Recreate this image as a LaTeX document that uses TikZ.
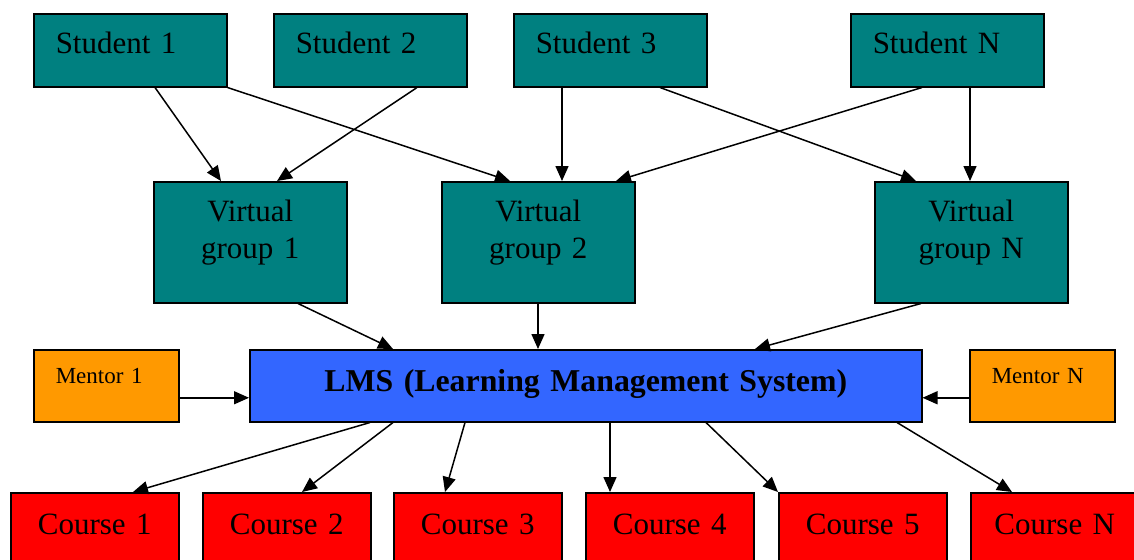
\documentclass[tikz,border=0pt]{standalone}
\usepackage{fontspec}
\setmainfont{Liberation Serif}
\usetikzlibrary{arrows.meta}
\definecolor{lmsblue}{HTML}{3366FF}
\definecolor{mentororange}{HTML}{FF9900}

\begin{document}
\begin{tikzpicture}[x=0.5pt,y=-0.5pt,
    >={Triangle[length=7.5pt,width=6.5pt]},
    box/.style={draw, line width=0.75pt, anchor=north west, inner ysep=0pt},
    studbox/.style={box, fill=teal, inner xsep=11pt, text width=74.5pt, align=left,
        text height=19.8pt, text depth=16.7pt, font=\fontsize{15.5}{18.5}\selectfont},
    groupbox/.style={box, fill=teal, inner xsep=4pt, text width=88.5pt, align=center,
        text height=19.8pt, text depth=40.7pt, font=\fontsize{15.5}{18.5}\selectfont},
    mentorbox/.style={box, fill=mentororange, inner xsep=11pt, text width=50.5pt, align=left,
        text height=17.1pt, text depth=18.9pt, font=\fontsize{11.5}{14}\selectfont},
    lmsbox/.style={box, fill=lmsblue, inner xsep=4pt, text width=328pt, align=center,
        text height=21pt, text depth=15pt, font=\fontsize{15.9}{19}\selectfont\bfseries},
    coursebox/.style={box, fill=red, inner xsep=4pt, text width=76pt, align=center,
        text height=20.8pt, text depth=19.2pt, font=\fontsize{15.5}{18.5}\selectfont},
    link/.style={->, line width=0.75pt}]
        \useasboundingbox (0,0) rectangle (1134,559);
        \clip (0,0) rectangle (1134,559);

        \node[studbox] (s1) at (33,13) {Student 1};
        \node[studbox] (s2) at (273,13) {Student 2};
        \node[studbox] (s3) at (513,13) {Student 3};
        \node[studbox] (sN) at (850,13) {Student N};

        \node[groupbox] (v1) at (153,181) {Virtual\\group 1};
        \node[groupbox] (v2) at (441,181) {Virtual\\group 2};
        \node[groupbox] (vN) at (874,181) {Virtual\\group N};

        \node[mentorbox] (m1) at (33,349) {Mentor 1};
        \node[lmsbox] (lms) at (249,349) {LMS (Learning Management System)};
        \node[mentorbox] (mN) at (969,349) {Mentor N};

        \node[coursebox] (c1) at (10,492) {Course 1};
        \node[coursebox] (c2) at (202,492) {Course 2};
        \node[coursebox] (c3) at (393,492) {Course 3};
        \node[coursebox] (c4) at (585,492) {Course 4};
        \node[coursebox] (c5) at (778,492) {Course 5};
        \node[coursebox] (cN) at (970,492) {Course N};

        \draw[link] ([xshift=61pt]s1.south west) -- ([xshift=34pt]v1.north west);
        \draw[link] (s1.south east) -- ([xshift=34.5pt]v2.north west);
        \draw[link] ([xshift=72pt]s2.south west) -- ([xshift=62pt]v1.north west);
        \draw[link] ([xshift=24.5pt]s3.south west) -- ([xshift=60.5pt]v2.north west);
        \draw[link] ([xshift=73.5pt]s3.south west) -- ([xshift=21pt]vN.north west);
        \draw[link] ([xshift=36pt]sN.south west) -- ([xshift=87.5pt]v2.north west);
        \draw[link] ([xshift=60pt]sN.south west) -- ([xshift=48pt]vN.north west);

        \draw[link] ([xshift=72.5pt]v1.south west) -- ([xshift=72pt]lms.north west);
        \draw[link] ([xshift=48.5pt]v2.south west) -- ([xshift=144.5pt]lms.north west);
        \draw[link] ([xshift=23.5pt]vN.south west) -- ([xshift=253pt]lms.north west);

        \draw[link] ([yshift=-6pt]m1.east) -- ([yshift=-6pt]lms.west);
        \draw[link] ([yshift=-6pt]mN.west) -- ([yshift=-6pt]lms.east);

        \draw[link] ([xshift=60.5pt]lms.south west) -- ([xshift=61.5pt]c1.north west);
        \draw[link] ([xshift=72pt]lms.south west) -- ([xshift=50pt]c2.north west);
        \draw[link] ([xshift=108pt]lms.south west) -- ([xshift=26pt]c3.north west);
        \draw[link] ([xshift=180.5pt]lms.south west) -- ([xshift=12.5pt]c4.north west);
        \draw[link] ([xshift=228.5pt]lms.south west) -- (c5.north west);
        \draw[link] ([xshift=324pt]lms.south west) -- ([xshift=21pt]cN.north west);
\end{tikzpicture}
\end{document}
